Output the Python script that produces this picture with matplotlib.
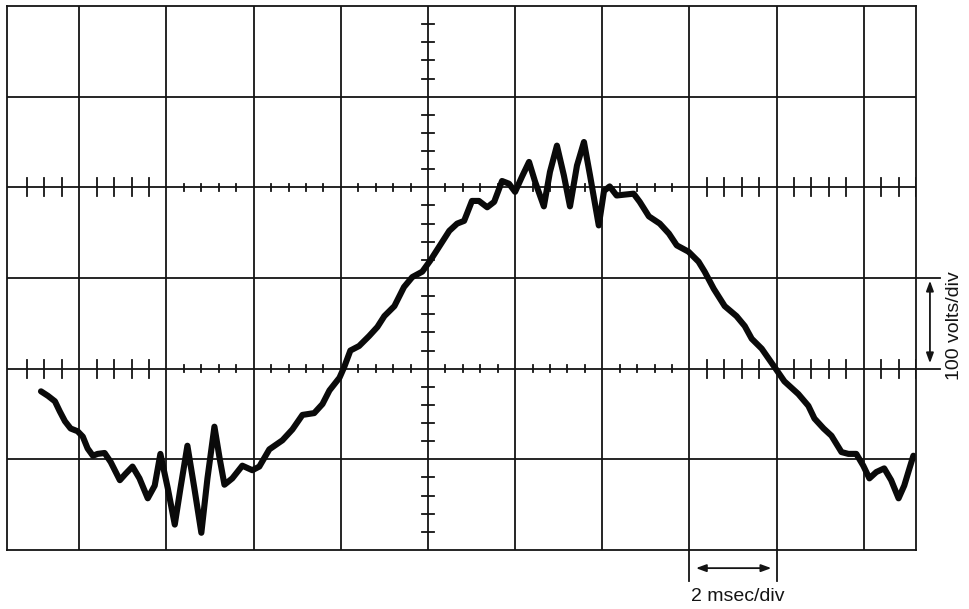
import matplotlib
matplotlib.use("Agg")
import matplotlib.pyplot as plt
import numpy as np

# scope trace: time in msec, amplitude in volts
t_ms = [-6.88, -6.72, -6.56, -6.45, -6.33, -6.20, -6.04, -5.92, -5.81, -5.69,
        -5.58, -5.42, -5.28, -5.07, -4.94, -4.78, -4.62, -4.43, -4.27, -4.14,
        -3.97, -3.81, -3.68, -3.52, -3.36, -3.20, -3.06, -2.90, -2.78, -2.67,
        -2.49, -2.26, -2.03, -1.87, -1.64, -1.34, -1.11, -0.88, -0.61, -0.42,
        -0.26, -0.03, 0.08, 0.22, 0.42, 0.65, 0.84, 1.00, 1.23, 1.45,
        1.64, 1.87, 2.05, 2.33, 2.49, 2.67, 2.83, 3.01, 3.17, 3.36,
        3.52, 3.70, 3.86, 4.00, 4.16, 4.32, 4.46, 4.66, 4.80, 4.96,
        5.12, 5.26, 5.42, 5.58, 5.72, 5.92, 6.04, 6.17, 6.33, 6.52,
        6.72, 6.86, 7.07, 7.32, 7.53, 7.71, 7.98, 8.21, 8.35, 8.56,
        8.81, 9.08, 9.27, 9.43, 9.66, 9.95, 10.18, 10.50, 10.73, 10.87,
        11.08, 11.26, 11.49, 11.65, 11.83, 11.99, 12.13, 12.29, 12.47, 12.63,
        12.80, 12.93, 13.05, 13.14]
volts = [-25, -30, -36, -47, -58, -66, -69, -75, -88, -96,
         -94, -93, -103, -123, -116, -108, -121, -143, -129, -94,
         -132, -172, -132, -85, -132, -181, -121, -64, -99, -128,
         -121, -107, -112, -108, -89, -79, -67, -51, -49, -39,
         -24, -10, 2, 20, 25, 36, 46, 58, 69, 90,
         101, 107, 119, 140, 152, 160, 163, 185, 185, 178,
         184, 207, 204, 195, 212, 228, 206, 179, 217, 246,
         213, 179, 224, 250, 213, 158, 196, 201, 191, 192,
         193, 184, 168, 160, 149, 136, 129, 118, 107, 88,
         69, 58, 47, 33, 22, 2, -14, -28, -41, -55,
         -66, -74, -92, -94, -94, -107, -121, -114, -110, -123,
         -143, -129, -110, -96]

t_grid = [-6, -4, -2, 0, 2, 4, 6, 8, 10, 12]
v_grid = [-100, 0, 100, 200, 300]

ink = "#141414"
lw_grid = 1.3

fig = plt.figure(figsize=(9.69, 6.09), dpi=100)
ax = fig.add_axes([7 / 969, 59 / 609, 909 / 969, 544 / 609])
ax.set_xlim(-7.66, 13.20)
ax.set_ylim(-200, 400)
ax.set_xticks([])
ax.set_yticks([])
for s in ax.spines.values():
    s.set_linewidth(lw_grid)
    s.set_color(ink)

for t in t_grid:
    ax.axvline(t, color=ink, lw=lw_grid)
for v in v_grid:
    ax.axhline(v, color=ink, lw=lw_grid)

# graticule ticks on the two marked horizontal lines
for v0 in (0, 200):
    for k in range(-18, 34):
        if k % 5 == 0:
            continue
        t = 0.4 * k
        h = 10 if (t < -4 or t > 8) else 4
        ax.plot([t, t], [v0 - h, v0 + h], color=ink, lw=1.3)

# ticks on the centre vertical line
for k in range(-9, 20):
    if k % 5 == 0:
        continue
    v = 20 * k
    ax.plot([2 - 0.14, 2 + 0.14], [v, v], color=ink, lw=1.3)

ax.plot(t_ms, volts, color="#0a0a0a", lw=4.4,
        solid_joinstyle="round", solid_capstyle="round")

# vertical scale marker on the right
for v in (0, 100):
    ax.plot([13.20, 13.74], [v, v], color=ink, lw=lw_grid, clip_on=False)
ax.annotate("", xy=(13.52, 97), xytext=(13.52, 6), annotation_clip=False,
            arrowprops=dict(arrowstyle="<|-|>,head_length=0.6,head_width=0.22",
                            color=ink, lw=1.3, shrinkA=0, shrinkB=0))
ax.text(14.09, 48, "100 volts/div", rotation=90, ha="center", va="center",
        fontsize=14, family="Liberation Sans", color=ink)

# horizontal scale marker below
for t in (8, 10):
    ax.plot([t, t], [-200, -234], color=ink, lw=lw_grid, clip_on=False)
ax.annotate("", xy=(9.88, -220), xytext=(8.15, -220), annotation_clip=False,
            arrowprops=dict(arrowstyle="<|-|>,head_length=0.6,head_width=0.22",
                            color=ink, lw=1.3, shrinkA=0, shrinkB=0))
ax.text(9.12, -251, "2 msec/div", ha="center", va="center",
        fontsize=14, family="Liberation Sans", color=ink)

fig.savefig("out.png", dpi=100)
